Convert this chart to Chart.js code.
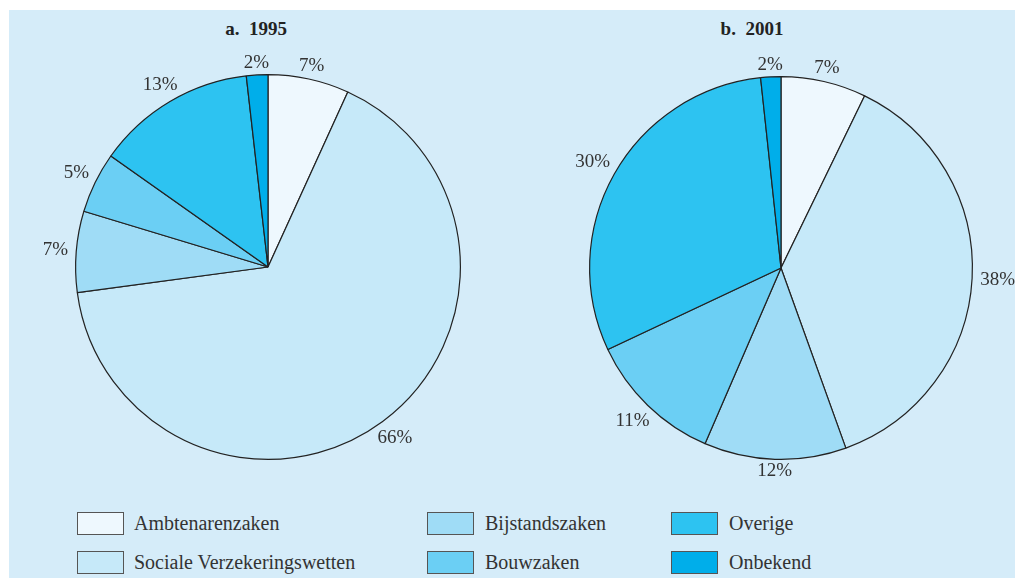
<!DOCTYPE html>
<html>
<head>
<meta charset="utf-8">
<script src="https://cdn.jsdelivr.net/npm/chart.js@4/dist/chart.umd.min.js"></script>
<style>
  html, body { margin:0; padding:0; width:1015px; height:578px; overflow:hidden; background:#ffffff; }
  #panel { position:absolute; left:9px; top:10px; width:1006px; height:568px; background:#d5ecf9; }
  .cv { position:absolute; }
  .title { position:absolute; font-family:"Liberation Serif", serif; font-weight:bold; font-size:19px; color:#222; white-space:pre; transform:translateX(-50%); }
  .leg { position:absolute; font-family:"Liberation Serif", serif; font-size:20px; color:#333; }
  .leg .box { position:absolute; width:45px; height:21px; border:1.5px solid #555; }
  .leg .txt { position:absolute; white-space:nowrap; line-height:22px; }
</style>
</head>
<body>
<div id="panel"></div>
<div class="title" style="left:256px; top:18px;">a.  1995</div>
<div class="title" style="left:752px; top:18px;">b.  2001</div>
<div class="cv" style="left:28px; top:27px; width:480px; height:480px;"><canvas id="c1" width="480" height="480"></canvas></div>
<div class="cv" style="left:541px; top:28px; width:480px; height:480px;"><canvas id="c2" width="480" height="480"></canvas></div>
<div id="legend"></div>
<script>
const categories = ["Ambtenarenzaken", "Sociale Verzekeringswetten", "Bijstandszaken", "Bouwzaken", "Overige", "Onbekend"];
const values1995 = [6.8, 66.0, 6.8, 5.1, 13.4, 1.8];
const values2001 = [7.2, 37.3, 12.0, 11.5, 30.3, 1.7];
const labels1995 = ["7%", "66%", "7%", "5%", "13%", "2%"];
const labels2001 = ["7%", "38%", "12%", "11%", "30%", "2%"];
const colors = ["#eef8fe", "#c6e9f9", "#9fdcf6", "#6bcff4", "#2dc3f1", "#00aeea"];

const outerLabels = {
  id: 'outerLabels',
  afterDatasetsDraw(chart, args, opts) {
    const ctx = chart.ctx;
    const meta = chart.getDatasetMeta(0);
    ctx.save();
    ctx.font = '19px "Liberation Serif", serif';
    ctx.fillStyle = '#333';
    ctx.textAlign = 'center';
    ctx.textBaseline = 'middle';
    meta.data.forEach((arc, i) => {
      const p = arc.getProps(['x', 'y', 'startAngle', 'endAngle', 'outerRadius'], true);
      const mid = (p.startAngle + p.endAngle) / 2;
      const w = ctx.measureText(opts.labels[i]).width;
      const c = Math.cos(mid), s = Math.sin(mid);
      const r = p.outerRadius + 8 + Math.abs(c) * w / 2 + Math.abs(s) * 3;
      ctx.fillText(opts.labels[i], p.x + c * r, p.y + s * r);
    });
    ctx.restore();
  }
};

function makePie(id, values, labels, pad) {
  new Chart(document.getElementById(id), {
    type: 'pie',
    data: {
      labels: categories,
      datasets: [{
        data: values,
        backgroundColor: colors,
        borderColor: '#222',
        borderWidth: 1.2,
        hoverOffset: 0
      }]
    },
    options: {
      responsive: false,
      animation: false,
      events: [],
      layout: { padding: pad },
      plugins: {
        legend: { display: false },
        tooltip: { enabled: false },
        title: { display: false },
        outerLabels: { labels: labels }
      }
    },
    plugins: [outerLabels]
  });
}
makePie('c1', values1995, labels1995, 47);
makePie('c2', values2001, labels2001, 48);

// legend (HTML, real text)
const legendPos = [
  [77, 512], [77, 551], [427, 512], [427, 551], [671, 512], [671, 551]
];
const legendTextX = [134, 134, 485, 485, 729, 729];
const legend = document.getElementById('legend');
categories.forEach((c, i) => {
  const d = document.createElement('div');
  d.className = 'leg';
  d.style.left = '0px'; d.style.top = '0px';
  const b = document.createElement('div');
  b.className = 'box';
  b.style.left = legendPos[i][0] + 'px';
  b.style.top = legendPos[i][1] + 'px';
  b.style.background = colors[i];
  const t = document.createElement('div');
  t.className = 'txt';
  t.style.left = legendTextX[i] + 'px';
  t.style.top = (legendPos[i][1]) + 'px';
  t.textContent = c;
  d.appendChild(b); d.appendChild(t);
  legend.appendChild(d);
});
</script>
</body>
</html>
